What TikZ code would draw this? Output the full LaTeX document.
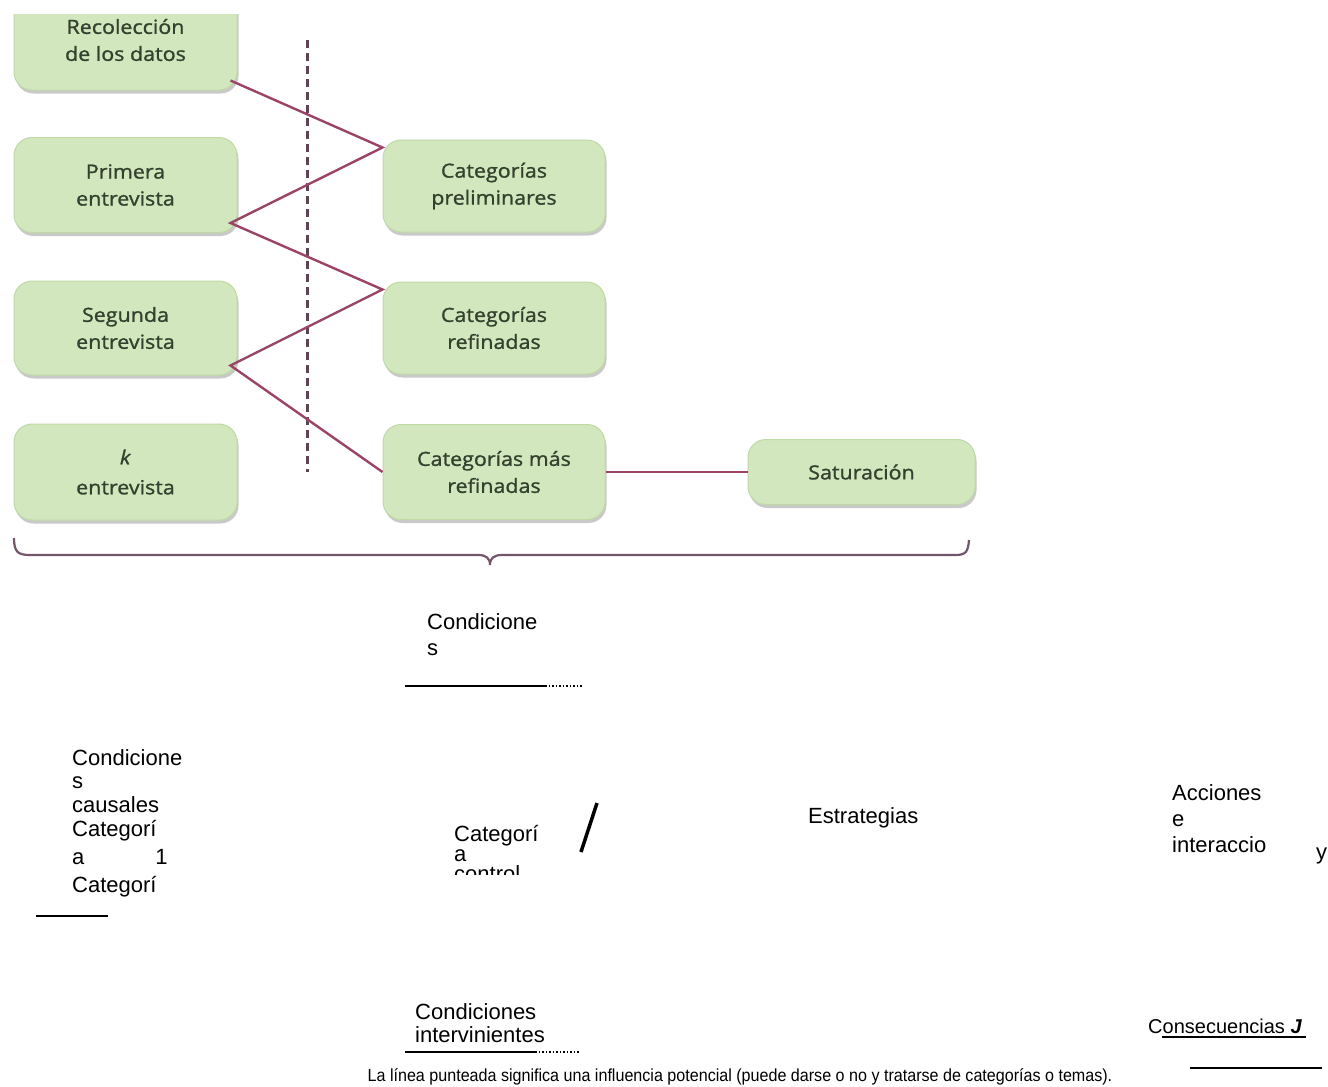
\documentclass[tikz,border=0pt]{standalone}
\usepackage{fontspec}
\setmainfont{Liberation Sans}
\newfontfamily\boxfont[FakeStretch=1.10,FakeBold=1.2]{Open Sans}
\newfontfamily\notefont[FakeStretch=0.92]{Liberation Sans}
\usetikzlibrary{shadows,calc}
\definecolor{boxfill}{HTML}{D2E7BD}
\definecolor{boxedge}{HTML}{C0DAA6}
\definecolor{boxtext}{HTML}{33422E}
\definecolor{linkcol}{HTML}{9C4468}
\definecolor{dashcol}{HTML}{5E4452}
\definecolor{bracecol}{HTML}{74566A}
\begin{document}
\begin{tikzpicture}[x=1pt,y=-1pt,
  gbox/.style={draw=boxedge, line width=1pt, fill=boxfill, rounded corners=18pt,
    minimum width=223pt, align=center, text=boxtext, inner sep=0pt,
    font=\boxfont\fontsize{19.5}{27}\selectfont,
    drop shadow={opacity=0.35, shadow xshift=1.5pt, shadow yshift=-3.5pt, fill=black!60}},
  link/.style={draw=linkcol, line width=2.4pt, line join=miter},
  txt/.style={anchor=west, inner sep=0pt, align=left, font=\fontsize{22}{24}\selectfont},
  rulel/.style={line width=1.5pt},
  dotl/.style={line width=1.5pt, dotted}
]
\useasboundingbox (0,0) rectangle (1328,1087);
\fill[white] (0,0) rectangle (1328,1087);

% ---------- upper diagram ----------
\begin{scope}
  \clip (0,14) rectangle (1328,1087);
  \node[gbox, minimum height=100pt] (rec) at (125.5,40) {Recolección\\de los datos};
\end{scope}
\node[gbox, minimum height=95pt] (prim) at (125.5,185) {Primera\\entrevista};
\node[gbox, minimum height=94pt] (seg) at (125.5,328) {Segunda\\entrevista};
\node[gbox, minimum height=96pt, font=\boxfont\fontsize{19.5}{30}\selectfont] (kent) at (125.5,472) {\textit{k}\\entrevista};
\node[gbox, minimum width=222pt, minimum height=92pt] (catpre) at (494,186) {Categorías\\preliminares};
\node[gbox, minimum width=222pt, minimum height=92pt] (catref) at (494,328) {Categorías\\refinadas};
\node[gbox, minimum width=222pt, minimum height=95pt] (catmas) at (494,472) {Categorías más\\refinadas};
\node[gbox, minimum width=227pt, minimum height=65pt] (sat) at (861.5,472) {Saturación};

\coordinate (d1) at (307,40);
\coordinate (d2) at (307,472);
\draw[dashcol, line width=3pt, dash pattern=on 8pt off 5pt] (d1) -- (d2);

\draw[link] ([shift={(-7,-10)}]rec.south east)
  -- ([shift={(0,8)}]catpre.north west)
  -- ([shift={(-7,-10)}]prim.south east)
  -- ([shift={(0,8)}]catref.north west)
  -- ([shift={(-7,-10)}]seg.south east)
  -- (catmas.west);
\draw[link] (catmas.east) -- (sat.west);

\draw[bracecol, line width=2.2pt] (14,538) .. controls (14,552) and (18,555) .. (30,555)
  -- (478,555) .. controls (486,555) and (490,558) .. (490,565)
  .. controls (490,558) and (494,555) .. (502,555)
  -- (955,555) .. controls (966,555) and (968,552) .. (969,540);

% ---------- lower text fragments ----------
\node[txt, font=\fontsize{22}{26}\selectfont] (cond) at (427,635) {Condicione\\s};
\coordinate (r1a) at (405,686); \coordinate (r1b) at (545,686); \coordinate (r1c) at (583,686);
\draw[rulel] (r1a) -- (r1b);
\draw[dotl] (r1b) -- (r1c);

\node[txt, font=\fontsize{22}{23.5}\selectfont] (causal) at (72,781) {Condicione\\s\\causales};
\node[txt, font=\fontsize{22}{28}\selectfont] (cat1) at (72,859) {Categorí\\a\hspace{71pt}1\\Categorí};
\coordinate (r2a) at (36,916); \coordinate (r2b) at (108,916);
\draw[rulel] (r2a) -- (r2b);

\begin{scope}
  \clip (400,780) rectangle (600,874);
  \node[txt, font=\fontsize{22}{20}\selectfont] (catc) at (454,853) {Categorí\\a\\control};
\end{scope}
\coordinate (s1) at (597,803); \coordinate (s2) at (581,852);
\draw[line width=3.5pt] (s1) -- (s2);

\node[txt] (estr) at (808,818) {Estrategias};
\node[txt, font=\fontsize{22}{26}\selectfont] (acc) at (1172,819) {Acciones\\e\\interaccio};
\node[txt] (yy) at (1316,856) {y};

\node[txt, font=\fontsize{22}{23}\selectfont] (condint) at (415,1023) {Condiciones\\intervinientes};
\coordinate (r3a) at (405,1052); \coordinate (r3b) at (535,1052); \coordinate (r3c) at (580,1052);
\draw[rulel] (r3a) -- (r3b);
\draw[dotl] (r3b) -- (r3c);

\node[txt, font=\fontsize{20}{24}\selectfont] (cons) at (1148,1026) {Consecuencias \textit{\textbf{J}}};
\coordinate (u1) at (1162,1037); \coordinate (u2) at (1306,1037);
\draw[line width=1.5pt] (u1) -- (u2);
\coordinate (r4a) at (1190,1068); \coordinate (r4b) at (1322,1068);
\draw[rulel] (r4a) -- (r4b);

\node[inner sep=0pt, font=\notefont\fontsize{17.5}{20}\selectfont] (note) at (740,1077)
  {La línea punteada significa una influencia potencial (puede darse o no y tratarse de categorías o temas).};
\end{tikzpicture}
\end{document}
